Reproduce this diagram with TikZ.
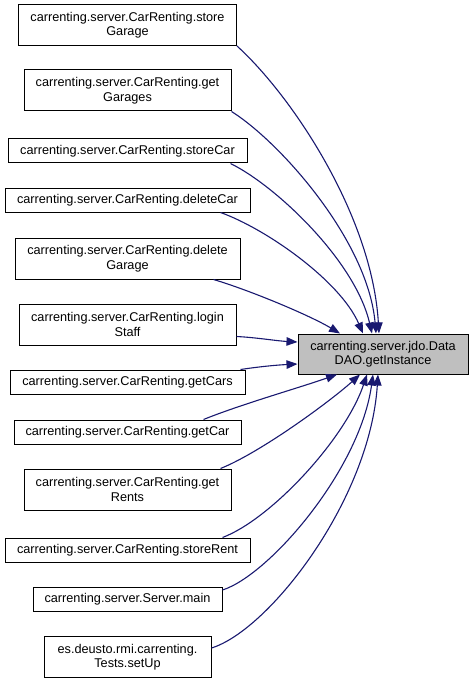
\documentclass[tikz,border=0pt]{standalone}
\usepackage{fontspec}
\setmainfont{Liberation Sans}
\usetikzlibrary{arrows.meta,positioning}

\begin{document}
\begin{tikzpicture}[x=1pt, y=-1pt,
    caller/.style={draw=black, fill=white, line width=1pt, inner sep=0pt, align=center, minimum height=24pt, font=\fontsize{12.7}{14.5}\selectfont},
    twoline/.style={minimum height=41pt},
    callee/.style={caller, fill=calleeFill, minimum width=170pt, minimum height=40pt},
    call/.style={draw=edgeBlue, line width=1.1pt, -{Triangle[length=11pt, width=8.5pt]}}]
    % Color Palette
    \definecolor{edgeBlue}{HTML}{191970}
    \definecolor{calleeFill}{HTML}{BFBFBF}

    \useasboundingbox (0,0) rectangle (473,687);

    % --- Callers (left column) ---
    \node[caller, twoline, minimum width=218pt] (storeGarage) at (127.5,25) {carrenting.server.CarRenting.store\\Garage};
    \node[caller, twoline, minimum width=207pt] (getGarages) at (127.5,90.5) {carrenting.server.CarRenting.get\\Garages};
    \node[caller, minimum width=239pt] (storeCar) at (127.5,151) {carrenting.server.CarRenting.storeCar};
    \node[caller, minimum width=245pt] (deleteCar) at (127.5,200) {carrenting.server.CarRenting.deleteCar};
    \node[caller, twoline, minimum width=225pt] (deleteGarage) at (127.5,258.5) {carrenting.server.CarRenting.delete\\Garage};
    \node[caller, twoline, minimum width=217pt] (loginStaff) at (127.5,324.5) {carrenting.server.CarRenting.login\\Staff};
    \node[caller, minimum width=235pt] (getCars) at (127.5,382) {carrenting.server.CarRenting.getCars};
    \node[caller, minimum width=227pt] (getCar) at (127.5,432) {carrenting.server.CarRenting.getCar};
    \node[caller, twoline, minimum width=207pt] (getRents) at (127.5,489.5) {carrenting.server.CarRenting.get\\Rents};
    \node[caller, minimum width=245pt] (storeRent) at (127.5,550) {carrenting.server.CarRenting.storeRent};
    \node[caller, minimum width=189pt] (serverMain) at (127.5,599.5) {carrenting.server.Server.main};
    \node[caller, twoline, minimum width=167pt] (testsSetUp) at (127.5,657) {es.deusto.rmi.carrenting.\\Tests.setUp};

    % --- Callee (right) ---
    \node[callee] (getInstance) at (383,354) {carrenting.server.jdo.Data\\DAO.getInstance};

    % Calls into getInstance (top side)
    \draw[call] (storeGarage.south east) .. controls +(55,50) and +(-7,-118) .. ([xshift=-4pt]getInstance.north);
    \draw[call] (getGarages.south east) .. controls +(48,30) and +(-8,-93) .. ([xshift=-7pt]getInstance.north);
    \draw[call] ([xshift=-17pt]storeCar.south east) .. controls +(45,22) and +(-17,-73) .. ([xshift=-11pt]getInstance.north);
    \draw[call] ([xshift=-30pt]deleteCar.south east) .. controls +(45,16) and +(-23,-53) .. ([xshift=-20pt]getInstance.north);
    \draw[call] ([xshift=-27pt]deleteGarage.south east) .. controls +(37,11) and +(-30,-18) .. ([xshift=-43pt]getInstance.north);

    % Calls into getInstance (left side)
    \draw[call] ([yshift=-12pt]loginStaff.east) .. controls +(20,1) and +(-20,-1) .. ([yshift=12pt]getInstance.west);
    \draw[call] ([xshift=-5pt]getCars.north east) .. controls +(20,-3) and +(-20,1) .. ([yshift=-10pt]getInstance.west);

    % Calls into getInstance (bottom side)
    \draw[call] ([xshift=-38pt]getCar.north east) .. controls +(37,-15) and +(-37,13) .. ([xshift=-46pt]getInstance.south);
    \draw[call] ([xshift=-11pt]getRents.north east) .. controls +(40,-16) and +(-30,27) .. ([xshift=-23pt]getInstance.south);
    \draw[call] ([xshift=-28pt]storeRent.north east) .. controls +(48,-18) and +(-22,65) .. ([xshift=-16pt]getInstance.south);
    \draw[call] ([yshift=-3pt]serverMain.north east) .. controls +(47,-15) and +(-13,95) .. ([xshift=-10pt]getInstance.south);
    \draw[call] ([yshift=9pt]testsSetUp.east) .. controls +(58,-18) and +(-8,125) .. ([xshift=-5pt]getInstance.south);

\end{tikzpicture}
\end{document}
